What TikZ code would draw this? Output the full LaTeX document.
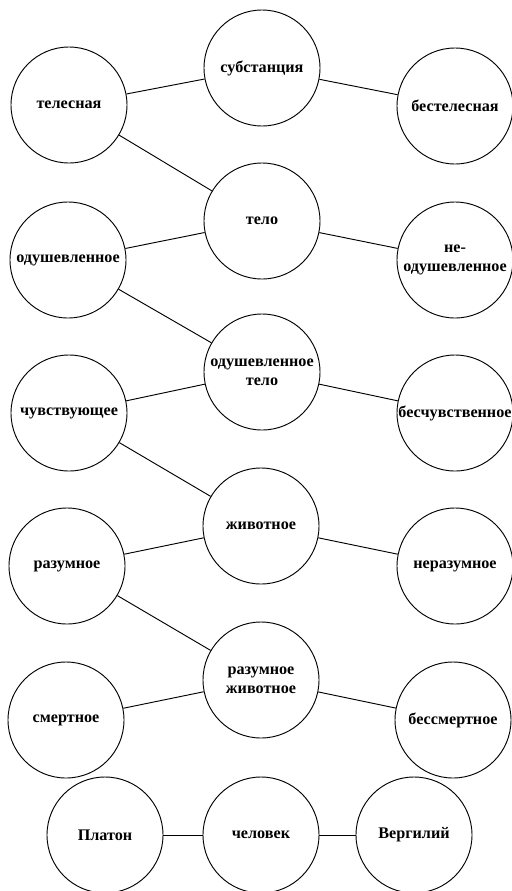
\documentclass[tikz,border=0pt]{standalone}
\usepackage{fontspec}
\setmainfont{Liberation Serif}
\usepackage{tikz}

\begin{document}
\begin{tikzpicture}[x=0.03cm, y=-0.03cm,
    term/.style={draw, circle, thick, minimum size=3.48cm, inner sep=0pt,
                 align=center, font=\fontsize{13.8}{16.5}\selectfont\bfseries}]

\useasboundingbox (0,0) rectangle (512,891);

%% genera and species (middle column)
\node[term] (subst)  at (262,68)  {субстанция};
\node[term] (telo)   at (262,221) {тело};
\node[term] (odtelo) at (262,372) {одушевленное\\тело};
\node[term] (zhiv)   at (261,526) {животное};
\node[term] (razzh)  at (261,680) {разумное\\животное};
\node[term] (chel)   at (261,835) {человек};

%% differences (left column)
\node[term] (tel)    at (69,105)  {телесная};
\node[term] (odush)  at (68,260)  {одушевленное};
\node[term] (chuv)   at (69,413)  {чувствующее};
\node[term] (raz)    at (67,566)  {разумное};
\node[term] (smert)  at (66,720)  {смертное};

%% differences (right column)
\node[term] (btel)   at (455,106) {бестелесная};
\node[term] (neod)   at (455,260) {не-\\одушевленное};
\node[term] (bchuv)  at (455,413) {бесчувственное};
\node[term] (neraz)  at (455,566) {неразумное};
\node[term] (bsmert) at (453,720) {бессмертное};

%% individuals
\node[term] (platon) at (105,835) {Платон};
\node[term] (verg)   at (414,835) {Вергилий};

%% edges
\draw[thick] (subst) -- (tel);      %% субстанция - телесная
\draw[thick] (subst) -- (btel);     %% субстанция - бестелесная
\draw[thick] (tel) -- (telo);       %% телесная - тело
\draw[thick] (telo) -- (odush);     %% тело - одушевленное
\draw[thick] (telo) -- (neod);      %% тело - неодушевленное
\draw[thick] (odush) -- (odtelo);   %% одушевленное - одушевленное тело
\draw[thick] (odtelo) -- (chuv);    %% одушевленное тело - чувствующее
\draw[thick] (odtelo) -- (bchuv);   %% одушевленное тело - бесчувственное
\draw[thick] (chuv) -- (zhiv);      %% чувствующее - животное
\draw[thick] (zhiv) -- (raz);       %% животное - разумное
\draw[thick] (zhiv) -- (neraz);     %% животное - неразумное
\draw[thick] (raz) -- (razzh);      %% разумное - разумное животное
\draw[thick] (razzh) -- (smert);    %% разумное животное - смертное
\draw[thick] (razzh) -- (bsmert);   %% разумное животное - бессмертное
\draw[thick] (platon) -- (chel);    %% Платон - человек
\draw[thick] (chel) -- (verg);      %% человек - Вергилий

\end{tikzpicture}
\end{document}
